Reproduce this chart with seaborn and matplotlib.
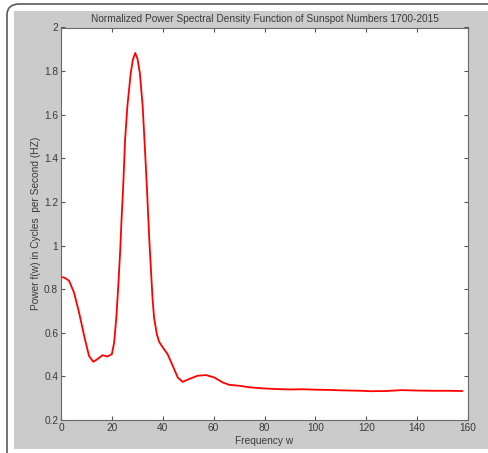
"""Normalized power spectral density of sunspot numbers, MATLAB-style figure."""

import matplotlib
matplotlib.use("Agg")
import matplotlib.pyplot as plt
from matplotlib.patches import Rectangle, FancyBboxPatch
import seaborn as sns

# curve
freq = [0.5, 1.5, 3.2, 5.1, 7.1, 9.1, 11.0, 12.7, 14.3, 16.3, 18.2, 20.0,
        20.9, 21.8, 22.6, 23.3, 23.8, 24.4, 25.2, 26.1, 27.4, 28.3, 29.2,
        30.1, 31.0, 32.1, 32.8, 33.8, 34.7, 36.0, 36.6, 37.7, 38.6, 40.0,
        41.9, 43.9, 45.9, 47.8, 50.4, 53.7, 57.0, 60.3, 63.6, 66.2, 70.1,
        74.1, 79.3, 84.6, 90.0, 95.0, 100.0, 105.0, 110.0, 118.0, 122.0,
        128.0, 134.0, 140.0, 146.0, 152.0, 157.8]
power = [0.855, 0.852, 0.838, 0.785, 0.693, 0.586, 0.494, 0.467, 0.479,
         0.497, 0.491, 0.502, 0.556, 0.678, 0.831, 0.983, 1.12, 1.258,
         1.487, 1.64, 1.79, 1.855, 1.883, 1.855, 1.79, 1.64, 1.487, 1.258,
         1.029, 0.754, 0.668, 0.592, 0.558, 0.533, 0.502, 0.449, 0.395,
         0.375, 0.388, 0.403, 0.406, 0.395, 0.372, 0.361, 0.357, 0.350,
         0.345, 0.342, 0.340, 0.341, 0.339, 0.338, 0.336, 0.334, 0.332,
         0.333, 0.337, 0.335, 0.334, 0.334, 0.333]

x_ticks = [0, 20, 40, 60, 80, 100, 120, 140, 160]
y_ticks = [0.2, 0.4, 0.6, 0.8, 1.0, 1.2, 1.4, 1.6, 1.8, 2.0]
y_labels = ["0.2", "0.4", "0.6", "0.8", "1", "1.2", "1.4", "1.6", "1.8", "2"]


def run():
    sns.set_style("ticks")
    plt.rcParams["font.family"] = ["Liberation Sans", "DejaVu Sans"]

    W, H = 488, 453
    fig = plt.figure(figsize=(W / 100, H / 100), dpi=100)
    fig.patch.set_facecolor("white")

    # grey window background and rounded frame (behind the axes)
    fig.patches.append(Rectangle((14 / W, 1 - 449 / H), 1 - 14 / W, (449 - 11) / H,
                                 transform=fig.transFigure, facecolor="#cbcbcb",
                                 edgecolor="none", zorder=-2))
    fig.patches.append(FancyBboxPatch((7 / W, -0.2), 1.2, 1 - 4 / H + 0.2,
                                      boxstyle="round,pad=0,rounding_size=0.025",
                                      transform=fig.transFigure, facecolor="none",
                                      edgecolor="#5a5a5a", linewidth=1.2, zorder=-1))

    ax = fig.add_axes([61 / W, 1 - 420 / H, (468 - 61) / W, (420 - 27.5) / H])
    ax.set_facecolor("white")

    sns.lineplot(x=freq, y=power, color="red", linewidth=1.3, ax=ax)

    ax.set_xlim(0, 160)
    ax.set_ylim(0.2, 2)
    ax.set_xticks(x_ticks)
    ax.set_yticks(y_ticks)
    ax.set_yticklabels(y_labels)

    txt = "#3a3a3a"
    fs = 7.3
    ax.tick_params(direction="in", length=3, width=0.8, colors="#555555",
                   labelcolor=txt, labelsize=fs, top=True, right=True, pad=2)
    for s in ax.spines.values():
        s.set_color("#6a6a6a")
        s.set_linewidth(0.8)

    ax.set_title("Normalized Power Spectral Density Function of Sunspot Numbers 1700-2015",
                 fontsize=fs, color=txt, pad=4)
    ax.set_xlabel("Frequency w", fontsize=fs, color=txt, labelpad=2)
    ax.set_ylabel("Power f(w) in Cycles  per Second (HZ)", fontsize=fs, color=txt,
                  labelpad=2)

    fig.savefig("out.png", dpi=100, facecolor=fig.get_facecolor())


if __name__ == "__main__":
    run()
